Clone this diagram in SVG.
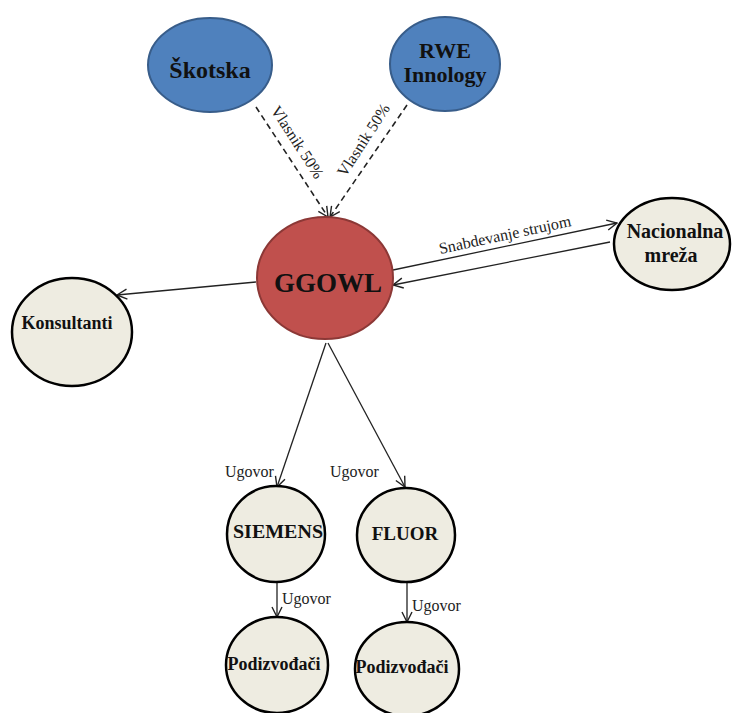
<svg xmlns="http://www.w3.org/2000/svg" width="732" height="713" viewBox="0 0 732 713">
<style>
.lbl{font-family:"Liberation Serif","Times New Roman",serif;font-weight:bold;fill:#111;text-anchor:middle}
.edge{font-family:"Liberation Serif","Times New Roman",serif;fill:#222;font-size:16px}
.blue{fill:#4F81BD;stroke:#385D8A;stroke-width:2}
.red{fill:#C0504D;stroke:#8C3836;stroke-width:2}
.cream{fill:#EEECE1;stroke:#000;stroke-width:2.5}
.ln{stroke:#222;stroke-width:1.3;fill:none;marker-end:url(#ah)}
.dash{stroke-dasharray:6 4;stroke-width:1.6}
</style>
<defs>
<marker id="ah" viewBox="0 0 12 12" refX="11" refY="6" markerWidth="12" markerHeight="12" markerUnits="userSpaceOnUse" orient="auto">
<path d="M1,1 L11,6 L1,11" fill="none" stroke="#222" stroke-width="1.4"/>
</marker>
</defs>
<rect width="732" height="713" fill="#fff"/>
<g id="connectors">
<line class="ln dash" x1="256" y1="107" x2="328" y2="217"/>
<line class="ln dash" x1="407" y1="105" x2="330" y2="217"/>
<line class="ln" x1="393" y1="270" x2="617" y2="223"/>
<line class="ln" x1="610" y1="242" x2="393" y2="285"/>
<line class="ln" x1="256" y1="282" x2="117" y2="295"/>
<line class="ln" x1="326" y1="343" x2="277" y2="487"/>
<line class="ln" x1="328" y1="343" x2="405" y2="487"/>
<line class="ln" x1="277" y1="582" x2="277" y2="617"/>
<line class="ln" x1="407" y1="582" x2="407" y2="622"/>
<text class="edge" transform="translate(293,145) rotate(57)" text-anchor="middle">Vlasnik 50%</text>
<text class="edge" transform="translate(368,143) rotate(-57)" text-anchor="middle">Vlasnik 50%</text>
<text class="edge" transform="translate(506,240) rotate(-12)" text-anchor="middle">Snabdevanje strujom</text>
<text class="edge" x="225" y="477" font-size="17">Ugovor</text>
<text class="edge" x="330" y="477" font-size="17">Ugovor</text>
<text class="edge" x="282" y="604" font-size="17">Ugovor</text>
<text class="edge" x="412" y="611" font-size="17">Ugovor</text>
</g>
<g id="skotska"><ellipse class="blue" cx="210" cy="65" rx="62" ry="47"/><text class="lbl" x="210" y="78" font-size="24">Škotska</text></g>
<g id="rwe"><ellipse class="blue" cx="445" cy="64" rx="55" ry="47"/><text class="lbl" x="445" y="58" font-size="22">RWE</text><text class="lbl" x="445" y="82" font-size="22">Innology</text></g>
<g id="ggowl"><ellipse class="red" cx="325" cy="278" rx="68" ry="61"/><text class="lbl" x="328" y="292" font-size="27">GGOWL</text></g>
<g id="nacionalna"><ellipse class="cream" cx="672" cy="244" rx="58" ry="46"/><text class="lbl" x="675" y="238" font-size="20">Nacionalna</text><text class="lbl" x="671" y="262" font-size="20">mreža</text></g>
<g id="konsultanti"><ellipse class="cream" cx="72" cy="332" rx="60" ry="54"/><text class="lbl" x="67" y="329" font-size="18">Konsultanti</text></g>
<g id="siemens"><ellipse class="cream" cx="276" cy="534" rx="49" ry="48"/><text class="lbl" x="278" y="538" font-size="19" textLength="90" lengthAdjust="spacingAndGlyphs">SIEMENS</text></g>
<g id="fluor"><ellipse class="cream" cx="406" cy="535" rx="49" ry="47"/><text class="lbl" x="405" y="540" font-size="19">FLUOR</text></g>
<g id="podizvodjaci1"><ellipse class="cream" cx="277" cy="665" rx="51" ry="48"/><text class="lbl" x="274" y="670" font-size="18">Podizvođači</text></g>
<g id="podizvodjaci2"><ellipse class="cream" cx="407" cy="669" rx="52" ry="47"/><text class="lbl" x="402" y="673" font-size="18">Podizvođači</text></g>
</svg>
